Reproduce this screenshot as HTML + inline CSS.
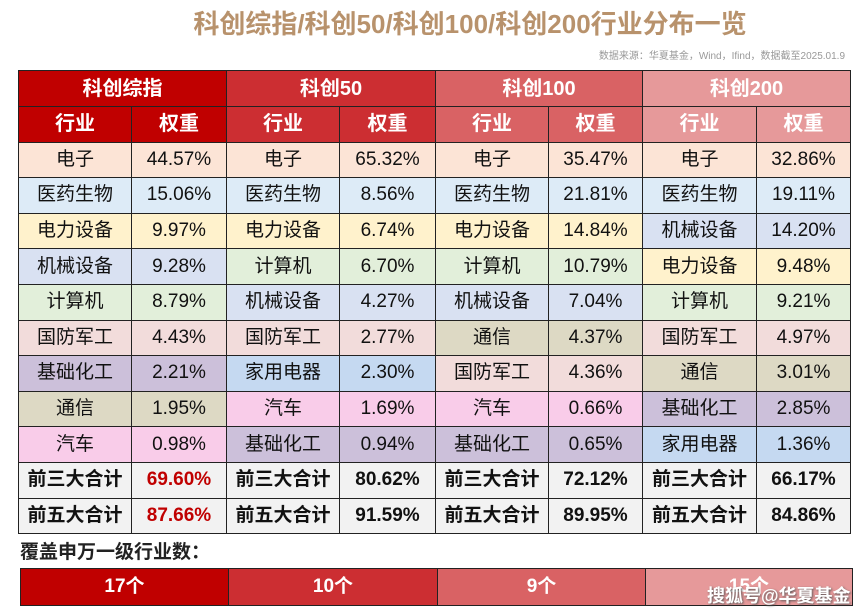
<!DOCTYPE html><html><head><meta charset="utf-8"><style>
body{margin:0;width:865px;height:613px;background:#fff;font-family:"Liberation Sans","Noto Sans CJK SC",sans-serif;position:relative;overflow:hidden}
.t{position:absolute;left:0;width:940px;text-align:center;top:4px;font-size:26px;font-weight:bold;color:#B8926C}
.s{position:absolute;right:20px;top:47px;font-size:10px;color:#999}
table{position:absolute;left:18px;top:70px;border-collapse:collapse}
td{border:1.5px solid #222;text-align:center;font-size:19px;height:34.6px;padding:0;color:#111;line-height:22px;vertical-align:middle}
.h td{color:#fff;font-weight:bold;font-size:20px}
.b td{font-weight:bold;background:#F2F2F2}
.r{color:#C00000!important}
.c{position:absolute;left:20px;top:537px;font-size:19px;font-weight:bold;color:#222}
.bar{position:absolute;top:568px;height:38px;border:1.5px solid #222;box-sizing:border-box;color:#fff;font-weight:bold;font-size:19px;text-align:center;line-height:36px}
.w{position:absolute;left:707px;top:582px;font-size:18px;font-weight:bold;color:#fff;text-shadow:1px 1px 2px #555}
</style></head><body>
<div class="t">科创综指/科创50/科创100/科创200行业分布一览</div>
<div class="s">数据来源：华夏基金，Wind，Ifind，数据截至2025.01.9</div>
<table>
<colgroup><col style="width:113px"><col style="width:95px"><col style="width:113px"><col style="width:96px"><col style="width:113px"><col style="width:94px"><col style="width:114px"><col style="width:94px"></colgroup>
<tr class="h"><td colspan="2" style="background:#C00000;height:35px">科创综指</td><td colspan="2" style="background:#CC2E32">科创50</td><td colspan="2" style="background:#D96264">科创100</td><td colspan="2" style="background:#E6999A">科创200</td></tr>
<tr class="h"><td style="background:#C00000;height:34px">行业</td><td style="background:#C00000">权重</td><td style="background:#CC2E32">行业</td><td style="background:#CC2E32">权重</td><td style="background:#D96264">行业</td><td style="background:#D96264">权重</td><td style="background:#E6999A">行业</td><td style="background:#E6999A">权重</td></tr>
<tr><td style="background:#FCE4D6">电子</td><td style="background:#FCE4D6">44.57%</td><td style="background:#FCE4D6">电子</td><td style="background:#FCE4D6">65.32%</td><td style="background:#FCE4D6">电子</td><td style="background:#FCE4D6">35.47%</td><td style="background:#FCE4D6">电子</td><td style="background:#FCE4D6">32.86%</td></tr>
<tr><td style="background:#DDEBF7">医药生物</td><td style="background:#DDEBF7">15.06%</td><td style="background:#DDEBF7">医药生物</td><td style="background:#DDEBF7">8.56%</td><td style="background:#DDEBF7">医药生物</td><td style="background:#DDEBF7">21.81%</td><td style="background:#DDEBF7">医药生物</td><td style="background:#DDEBF7">19.11%</td></tr>
<tr><td style="background:#FFF2CC">电力设备</td><td style="background:#FFF2CC">9.97%</td><td style="background:#FFF2CC">电力设备</td><td style="background:#FFF2CC">6.74%</td><td style="background:#FFF2CC">电力设备</td><td style="background:#FFF2CC">14.84%</td><td style="background:#D9E1F2">机械设备</td><td style="background:#D9E1F2">14.20%</td></tr>
<tr><td style="background:#D9E1F2">机械设备</td><td style="background:#D9E1F2">9.28%</td><td style="background:#E2EFDA">计算机</td><td style="background:#E2EFDA">6.70%</td><td style="background:#E2EFDA">计算机</td><td style="background:#E2EFDA">10.79%</td><td style="background:#FFF2CC">电力设备</td><td style="background:#FFF2CC">9.48%</td></tr>
<tr><td style="background:#E2EFDA">计算机</td><td style="background:#E2EFDA">8.79%</td><td style="background:#D9E1F2">机械设备</td><td style="background:#D9E1F2">4.27%</td><td style="background:#D9E1F2">机械设备</td><td style="background:#D9E1F2">7.04%</td><td style="background:#E2EFDA">计算机</td><td style="background:#E2EFDA">9.21%</td></tr>
<tr><td style="background:#F2DCDB">国防军工</td><td style="background:#F2DCDB">4.43%</td><td style="background:#F2DCDB">国防军工</td><td style="background:#F2DCDB">2.77%</td><td style="background:#DDD9C4">通信</td><td style="background:#DDD9C4">4.37%</td><td style="background:#F2DCDB">国防军工</td><td style="background:#F2DCDB">4.97%</td></tr>
<tr><td style="background:#CCC0DA">基础化工</td><td style="background:#CCC0DA">2.21%</td><td style="background:#C5D9F1">家用电器</td><td style="background:#C5D9F1">2.30%</td><td style="background:#F2DCDB">国防军工</td><td style="background:#F2DCDB">4.36%</td><td style="background:#DDD9C4">通信</td><td style="background:#DDD9C4">3.01%</td></tr>
<tr><td style="background:#DDD9C4">通信</td><td style="background:#DDD9C4">1.95%</td><td style="background:#F9CCE9">汽车</td><td style="background:#F9CCE9">1.69%</td><td style="background:#F9CCE9">汽车</td><td style="background:#F9CCE9">0.66%</td><td style="background:#CCC0DA">基础化工</td><td style="background:#CCC0DA">2.85%</td></tr>
<tr><td style="background:#F9CCE9">汽车</td><td style="background:#F9CCE9">0.98%</td><td style="background:#CCC0DA">基础化工</td><td style="background:#CCC0DA">0.94%</td><td style="background:#CCC0DA">基础化工</td><td style="background:#CCC0DA">0.65%</td><td style="background:#C5D9F1">家用电器</td><td style="background:#C5D9F1">1.36%</td></tr>
<tr class="b"><td>前三大合计</td><td class="r">69.60%</td><td>前三大合计</td><td>80.62%</td><td>前三大合计</td><td>72.12%</td><td>前三大合计</td><td>66.17%</td></tr>
<tr class="b"><td>前五大合计</td><td class="r">87.66%</td><td>前五大合计</td><td>91.59%</td><td>前五大合计</td><td>89.95%</td><td>前五大合计</td><td>84.86%</td></tr>
</table>
<div class="c">覆盖申万一级行业数：</div>
<div class="bar" style="left:20px;width:209px;background:#C00000">17个</div>
<div class="bar" style="left:228px;width:210px;background:#CC2E32">10个</div>
<div class="bar" style="left:437px;width:209px;background:#D96264">9个</div>
<div class="bar" style="left:645px;width:208px;background:#E6999A">15个</div>
<div class="w">搜狐号@华夏基金</div>
</body></html>
